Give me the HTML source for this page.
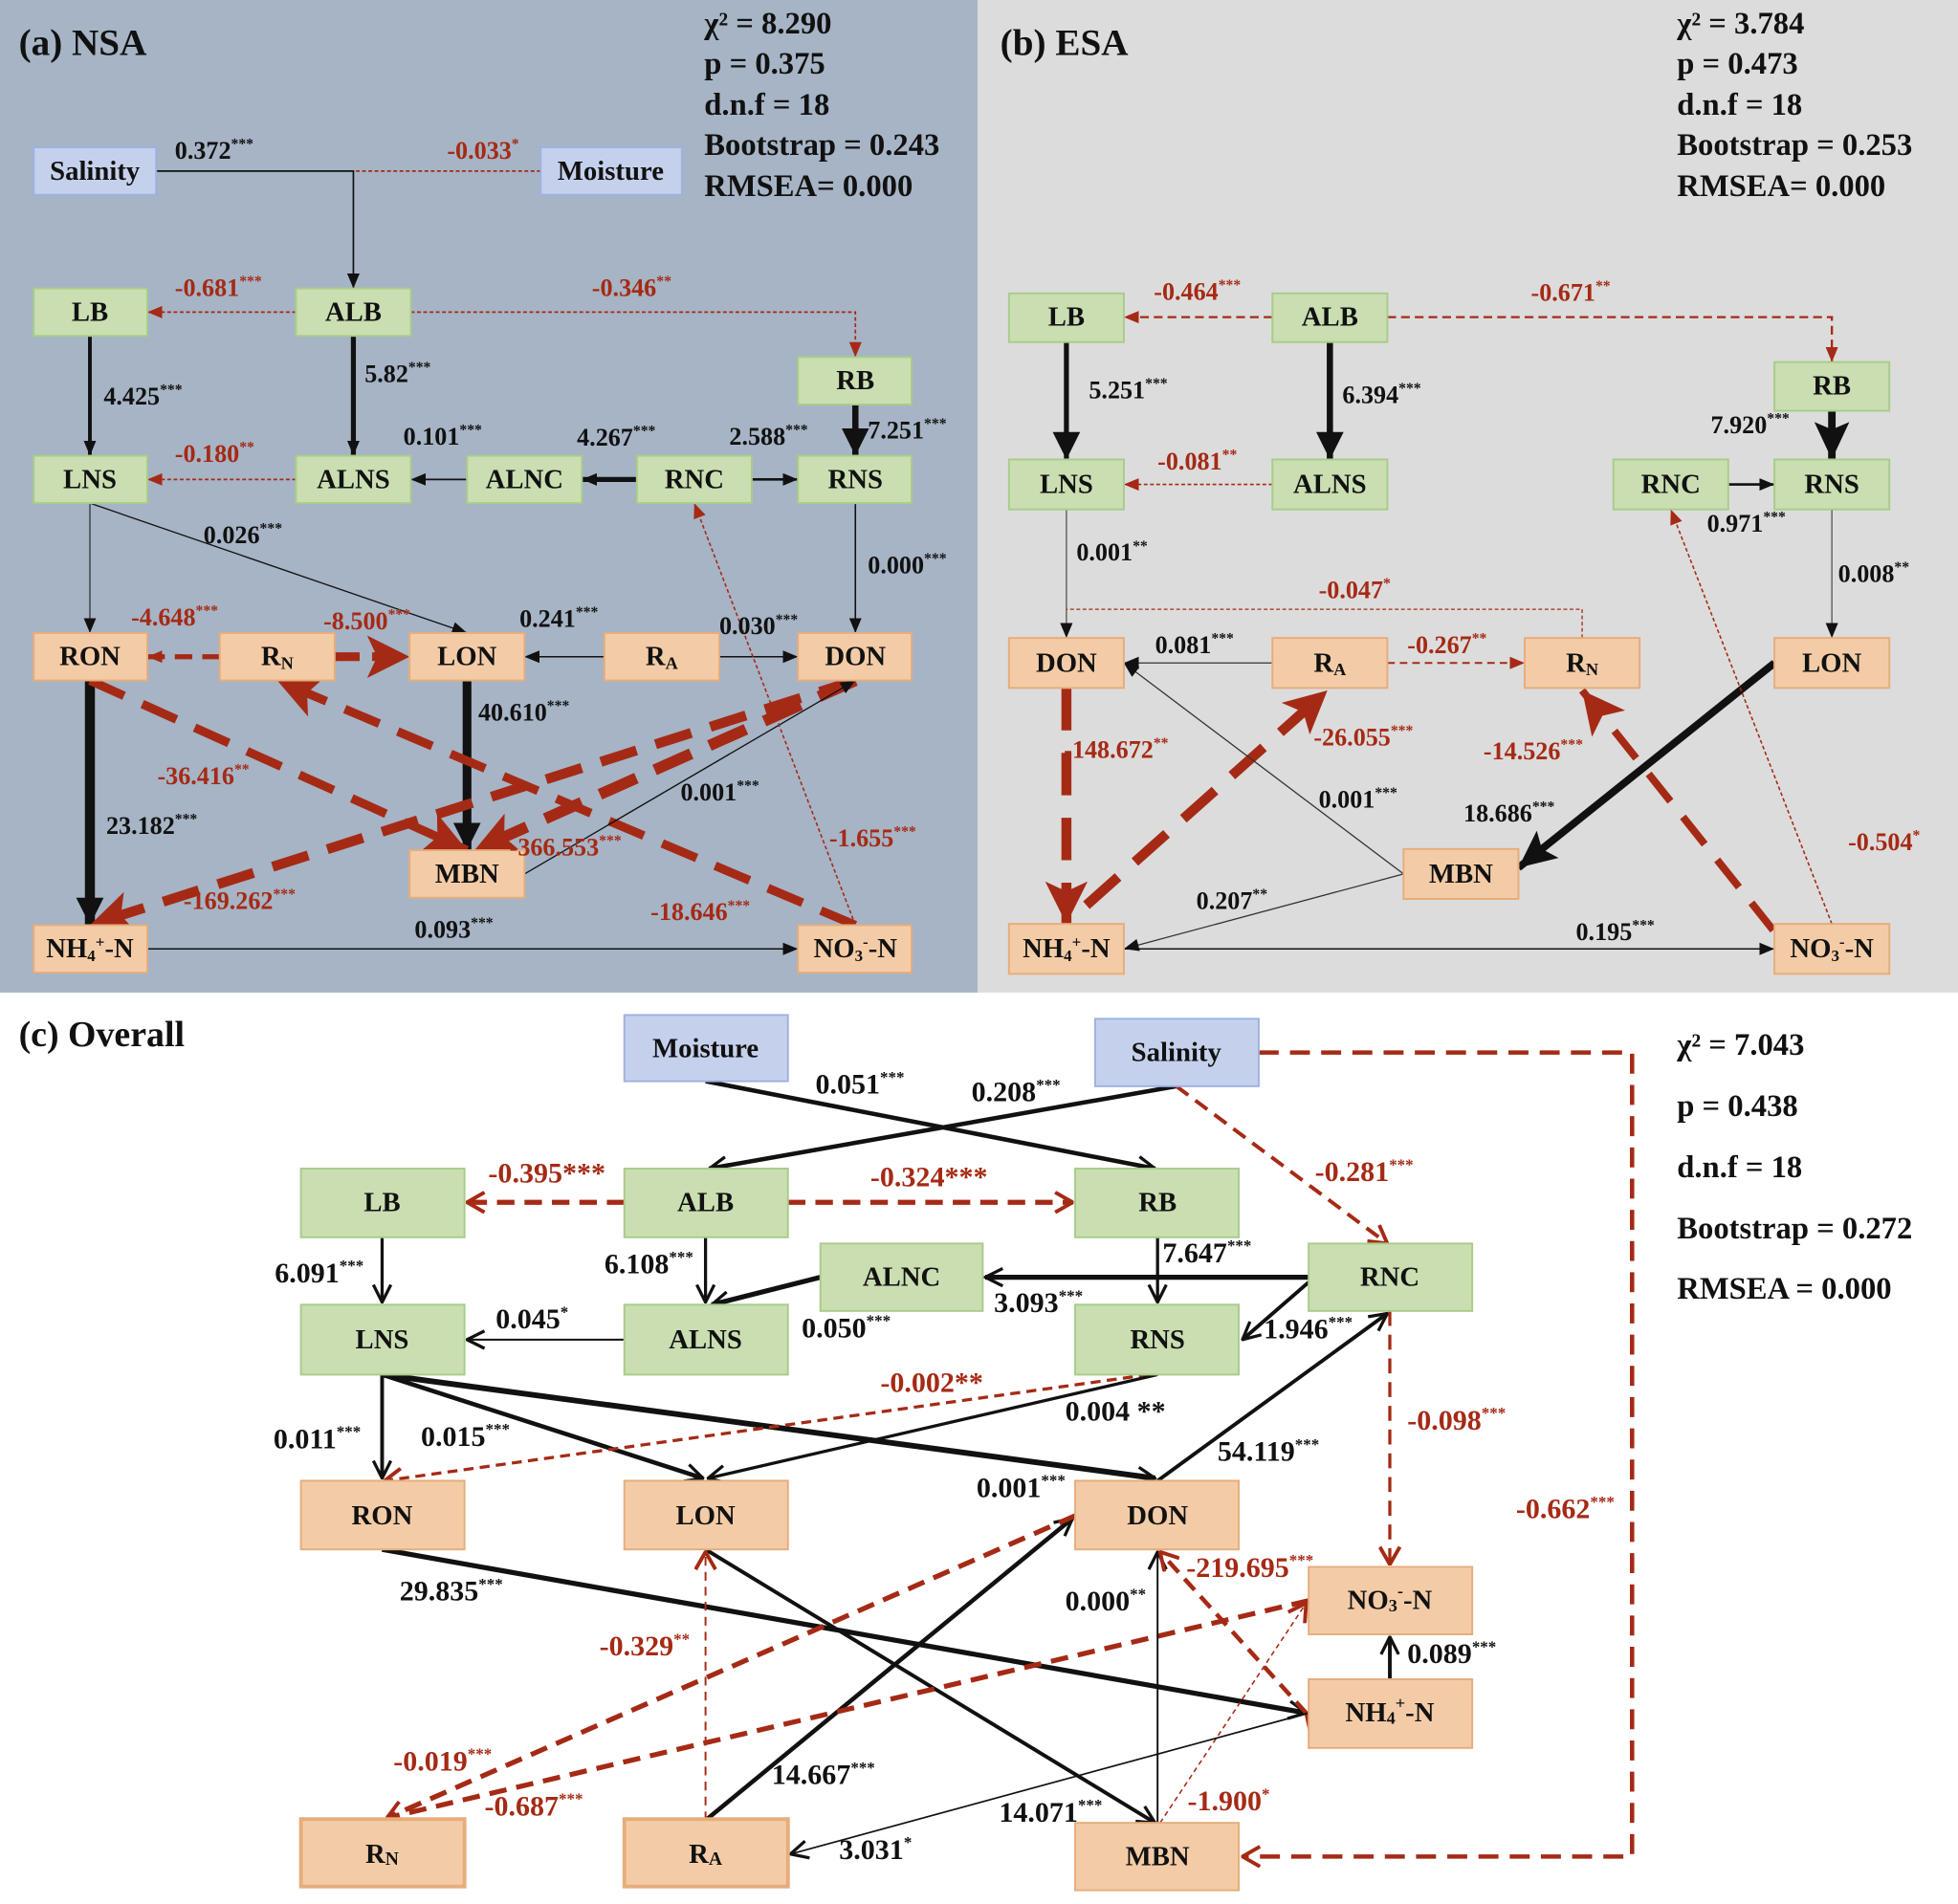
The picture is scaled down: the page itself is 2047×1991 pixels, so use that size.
<!DOCTYPE html>
<html><head><meta charset="utf-8"><style>
html,body{margin:0;padding:0;background:#fff}
svg{display:block}
text{font-family:"Liberation Serif",serif;font-weight:bold}
.n{font-size:22px;text-anchor:middle;dominant-baseline:central;fill:#111}
.l{font-size:20px;fill:#111}
.r{font-size:20px;fill:#a52a15}
.s{font-size:25px;fill:#111}
.c{font-size:23px;fill:#111}
.cr{font-size:23px;fill:#a52a15}
.g{fill:#cadeb2;stroke:#a9cc8a;stroke-width:1.5}
.o{fill:#f3cca7;stroke:#e6ad7c;stroke-width:1.5}
.b{fill:#c5d1ec;stroke:#9fb1e2;stroke-width:1.5}
</style></head><body>
<svg width="2047" height="1991" viewBox="0 0 1568 1525" preserveAspectRatio="none" xmlns="http://www.w3.org/2000/svg">
<defs>
<marker id="k" markerUnits="userSpaceOnUse" markerWidth="12" markerHeight="10" refX="12" refY="5" orient="auto"><path d="M0,0L12,5L0,10z" fill="#111"/></marker>
<marker id="kL" markerUnits="userSpaceOnUse" markerWidth="22" markerHeight="22" refX="22" refY="11" orient="auto"><path d="M0,0L22,11L0,22z" fill="#111"/></marker>
<marker id="kX" markerUnits="userSpaceOnUse" markerWidth="30" markerHeight="28" refX="30" refY="14" orient="auto"><path d="M0,0L30,14L0,28L6,14z" fill="#111"/></marker>
<marker id="rr" markerUnits="userSpaceOnUse" markerWidth="12" markerHeight="10" refX="12" refY="5" orient="auto"><path d="M0,0L12,5L0,10z" fill="#a52a15"/></marker>
<marker id="rL" markerUnits="userSpaceOnUse" markerWidth="34" markerHeight="34" refX="34" refY="17" orient="auto"><path d="M0,0L34,17L0,34L8,17z" fill="#a52a15"/></marker>
<marker id="cv" markerUnits="userSpaceOnUse" markerWidth="16" markerHeight="16" refX="15" refY="8" orient="auto"><path d="M1,1L15,8L1,15" fill="none" stroke="#111" stroke-width="2.5"/></marker>
<marker id="cr" markerUnits="userSpaceOnUse" markerWidth="16" markerHeight="18" refX="15" refY="9" orient="auto"><path d="M1,1L15,9L1,17" fill="none" stroke="#a52a15" stroke-width="3"/></marker>
</defs>
<rect x="0" y="0" width="783" height="795" fill="#a6b4c5"/>
<rect x="783" y="0" width="785" height="795" fill="#dcdcdc"/>

<!-- ===== Panel A ===== -->
<text x="15" y="44" style="font-size:30px" fill="#111">(a) NSA</text>
<text class="s" x="564" y="27">χ² = 8.290</text>
<text class="s" x="564" y="59">p = 0.375</text>
<text class="s" x="564" y="92">d.n.f = 18</text>
<text class="s" x="564" y="124">Bootstrap = 0.243</text>
<text class="s" x="564" y="157">RMSEA= 0.000</text>
<g fill="none">
<path d="M125,137H283V231" stroke="#111" stroke-width="1.3" marker-end="url(#k)"/>
<path d="M433,137H283" stroke="#a52a15" stroke-width="1.3" stroke-dasharray="3,2"/>
<path d="M237,250H118" stroke="#a52a15" stroke-width="1.3" stroke-dasharray="3,2" marker-end="url(#rr)"/>
<path d="M329,250H685V286" stroke="#a52a15" stroke-width="1.3" stroke-dasharray="3,2" marker-end="url(#rr)"/>
<path d="M72,269V365" stroke="#111" stroke-width="3" marker-end="url(#k)"/>
<path d="M283,269V365" stroke="#111" stroke-width="4" marker-end="url(#k)"/>
<path d="M685,324V365" stroke="#111" stroke-width="5" marker-end="url(#kL)"/>
<path d="M237,384H118" stroke="#a52a15" stroke-width="1.3" stroke-dasharray="3,2" marker-end="url(#rr)"/>
<path d="M374,384H329" stroke="#111" stroke-width="1.3" marker-end="url(#k)"/>
<path d="M510,384H466" stroke="#111" stroke-width="4" marker-end="url(#k)"/>
<path d="M602,384H639" stroke="#111" stroke-width="2" marker-end="url(#k)"/>
<path d="M72,403V507" stroke="#333" stroke-width="1" marker-end="url(#k)"/>
<path d="M72,403L374,507" stroke="#111" stroke-width="1" marker-end="url(#k)"/>
<path d="M685,403V507" stroke="#111" stroke-width="1.2" marker-end="url(#k)"/>
<path d="M176,526H118" stroke="#a52a15" stroke-width="4" stroke-dasharray="14,8" marker-end="url(#rr)"/>
<path d="M268,526H328" stroke="#a52a15" stroke-width="7" stroke-dasharray="20,10" marker-end="url(#rL)"/>
<path d="M484,526H420" stroke="#111" stroke-width="1.2" marker-end="url(#k)"/>
<path d="M576,526H639" stroke="#111" stroke-width="1.2" marker-end="url(#k)"/>
<path d="M374,545V681" stroke="#111" stroke-width="7" marker-end="url(#kL)"/>
<path d="M72,545V741" stroke="#111" stroke-width="8" marker-end="url(#kL)"/>
<path d="M72,545L374,681" stroke="#a52a15" stroke-width="7" stroke-dasharray="30,16" marker-end="url(#rL)"/>
<path d="M685,741L222,545" stroke="#a52a15" stroke-width="7" stroke-dasharray="30,16" marker-end="url(#rL)"/>
<path d="M685,545L72,741" stroke="#a52a15" stroke-width="8" stroke-dasharray="30,16" marker-end="url(#rL)"/>
<path d="M685,545L380,681" stroke="#a52a15" stroke-width="9" stroke-dasharray="32,16" marker-end="url(#rL)"/>
<path d="M420,700L685,545" stroke="#111" stroke-width="1" marker-end="url(#k)"/>
<path d="M685,741L556,403" stroke="#a52a15" stroke-width="1.2" stroke-dasharray="3,2" marker-end="url(#rr)"/>
<path d="M118,760H639" stroke="#111" stroke-width="1.2" marker-end="url(#k)"/>
</g>
<rect class="b" x="27" y="118" width="98" height="38"/><text class="n" x="76" y="137">Salinity</text>
<rect class="b" x="433" y="118" width="113" height="38"/><text class="n" x="489" y="137">Moisture</text>
<rect class="g" x="27" y="231" width="91" height="38"/><text class="n" x="72" y="250">LB</text>
<rect class="g" x="237" y="231" width="92" height="38"/><text class="n" x="283" y="250">ALB</text>
<rect class="g" x="639" y="286" width="91" height="38"/><text class="n" x="685" y="305">RB</text>
<rect class="g" x="27" y="365" width="91" height="38"/><text class="n" x="72" y="384">LNS</text>
<rect class="g" x="237" y="365" width="92" height="38"/><text class="n" x="283" y="384">ALNS</text>
<rect class="g" x="374" y="365" width="92" height="38"/><text class="n" x="420" y="384">ALNC</text>
<rect class="g" x="510" y="365" width="92" height="38"/><text class="n" x="556" y="384">RNC</text>
<rect class="g" x="639" y="365" width="91" height="38"/><text class="n" x="685" y="384">RNS</text>
<rect class="o" x="27" y="507" width="91" height="38"/><text class="n" x="72" y="526">RON</text>
<rect class="o" x="176" y="507" width="92" height="38"/><text class="n" x="222" y="526">R<tspan font-size="14" dy="5">N</tspan></text>
<rect class="o" x="328" y="507" width="92" height="38"/><text class="n" x="374" y="526">LON</text>
<rect class="o" x="484" y="507" width="92" height="38"/><text class="n" x="530" y="526">R<tspan font-size="14" dy="5">A</tspan></text>
<rect class="o" x="639" y="507" width="91" height="38"/><text class="n" x="685" y="526">DON</text>
<rect class="o" x="328" y="681" width="92" height="38"/><text class="n" x="374" y="700">MBN</text>
<rect class="o" x="27" y="741" width="91" height="38"/><text class="n" x="72" y="760">NH<tspan font-size="13" dy="5">4</tspan><tspan font-size="13" dy="-11">+</tspan><tspan dy="6">-N</tspan></text>
<rect class="o" x="639" y="741" width="91" height="38"/><text class="n" x="685" y="760">NO<tspan font-size="13" dy="5">3</tspan><tspan font-size="13" dy="-11">-</tspan><tspan dy="6">-N</tspan></text>
<g>
<text class="l" x="140" y="127">0.372<tspan font-size="12" dy="-8">***</tspan></text>
<text class="r" x="358" y="127">-0.033<tspan font-size="12" dy="-8">*</tspan></text>
<text class="r" x="140" y="237">-0.681<tspan font-size="12" dy="-8">***</tspan></text>
<text class="r" x="474" y="237">-0.346<tspan font-size="12" dy="-8">**</tspan></text>
<text class="l" x="83" y="324">4.425<tspan font-size="12" dy="-8">***</tspan></text>
<text class="l" x="292" y="306">5.82<tspan font-size="12" dy="-8">***</tspan></text>
<text class="l" x="323" y="356">0.101<tspan font-size="12" dy="-8">***</tspan></text>
<text class="l" x="462" y="357">4.267<tspan font-size="12" dy="-8">***</tspan></text>
<text class="l" x="584" y="356">2.588<tspan font-size="12" dy="-8">***</tspan></text>
<text class="l" x="695" y="351">7.251<tspan font-size="12" dy="-8">***</tspan></text>
<text class="r" x="140" y="370">-0.180<tspan font-size="12" dy="-8">**</tspan></text>
<text class="l" x="163" y="435">0.026<tspan font-size="12" dy="-8">***</tspan></text>
<text class="l" x="695" y="459">0.000<tspan font-size="12" dy="-8">***</tspan></text>
<text class="r" x="105" y="501">-4.648<tspan font-size="12" dy="-8">***</tspan></text>
<text class="r" x="259" y="504">-8.500<tspan font-size="12" dy="-8">***</tspan></text>
<text class="l" x="416" y="502">0.241<tspan font-size="12" dy="-8">***</tspan></text>
<text class="l" x="576" y="508">0.030<tspan font-size="12" dy="-8">***</tspan></text>
<text class="l" x="383" y="577">40.610<tspan font-size="12" dy="-8">***</tspan></text>
<text class="r" x="126" y="628">-36.416<tspan font-size="12" dy="-8">**</tspan></text>
<text class="l" x="85" y="668">23.182<tspan font-size="12" dy="-8">***</tspan></text>
<text class="l" x="545" y="641">0.001<tspan font-size="12" dy="-8">***</tspan></text>
<text class="r" x="408" y="685">-366.553<tspan font-size="12" dy="-8">***</tspan></text>
<text class="r" x="664" y="678">-1.655<tspan font-size="12" dy="-8">***</tspan></text>
<text class="r" x="147" y="728">-169.262<tspan font-size="12" dy="-8">***</tspan></text>
<text class="r" x="521" y="737">-18.646<tspan font-size="12" dy="-8">***</tspan></text>
<text class="l" x="332" y="751">0.093<tspan font-size="12" dy="-8">***</tspan></text>
</g>

<!-- ===== Panel B ===== -->
<text x="801" y="44" style="font-size:30px" fill="#111">(b) ESA</text>
<text class="s" x="1343" y="27">χ² = 3.784</text>
<text class="s" x="1343" y="59">p = 0.473</text>
<text class="s" x="1343" y="92">d.n.f = 18</text>
<text class="s" x="1343" y="124">Bootstrap = 0.253</text>
<text class="s" x="1343" y="157">RMSEA= 0.000</text>
<g fill="none">
<path d="M1019,254H900" stroke="#a52a15" stroke-width="1.8" stroke-dasharray="7,4" marker-end="url(#rr)"/>
<path d="M1111,254H1467V290" stroke="#a52a15" stroke-width="1.8" stroke-dasharray="7,4" marker-end="url(#rr)"/>
<path d="M854,274V368" stroke="#111" stroke-width="4" marker-end="url(#kL)"/>
<path d="M1065,274V368" stroke="#111" stroke-width="5" marker-end="url(#kL)"/>
<path d="M1467,329V368" stroke="#111" stroke-width="6" marker-end="url(#kX)"/>
<path d="M1019,388H900" stroke="#a52a15" stroke-width="1.2" stroke-dasharray="3,2" marker-end="url(#rr)"/>
<path d="M1384,388H1421" stroke="#111" stroke-width="2" marker-end="url(#k)"/>
<path d="M854,408V511" stroke="#555" stroke-width="1" marker-end="url(#k)"/>
<path d="M1267,511V488H854" stroke="#a52a15" stroke-width="1" stroke-dasharray="3,2"/>
<path d="M1019,531H900" stroke="#333" stroke-width="1" marker-end="url(#k)"/>
<path d="M1111,531H1221" stroke="#a52a15" stroke-width="1.5" stroke-dasharray="6,4" marker-end="url(#rr)"/>
<path d="M1467,408V511" stroke="#555" stroke-width="1" marker-end="url(#k)"/>
<path d="M854,551V740" stroke="#a52a15" stroke-width="8" stroke-dasharray="34,18" marker-end="url(#rL)"/>
<path d="M870,725L1063,553" stroke="#a52a15" stroke-width="8" stroke-dasharray="34,18" marker-end="url(#rL)"/>
<path d="M1420,745L1267,553" stroke="#a52a15" stroke-width="6" stroke-dasharray="28,16" marker-end="url(#rL)"/>
<path d="M1421,531L1216,695" stroke="#111" stroke-width="6" marker-end="url(#kX)"/>
<path d="M1124,700L900,531" stroke="#333" stroke-width="1" marker-end="url(#k)"/>
<path d="M1124,700L900,760" stroke="#333" stroke-width="1" marker-end="url(#k)"/>
<path d="M900,760H1421" stroke="#111" stroke-width="1.2" marker-start="url(#k)" marker-end="url(#k)"/>
<path d="M1467,740L1338,408" stroke="#a52a15" stroke-width="1.2" stroke-dasharray="3,2" marker-end="url(#rr)"/>
</g>
<rect class="g" x="808" y="235" width="92" height="39"/><text class="n" x="854" y="254">LB</text>
<rect class="g" x="1019" y="235" width="92" height="39"/><text class="n" x="1065" y="254">ALB</text>
<rect class="g" x="1421" y="290" width="92" height="39"/><text class="n" x="1467" y="309">RB</text>
<rect class="g" x="808" y="368" width="92" height="40"/><text class="n" x="854" y="388">LNS</text>
<rect class="g" x="1019" y="368" width="92" height="40"/><text class="n" x="1065" y="388">ALNS</text>
<rect class="g" x="1292" y="368" width="92" height="40"/><text class="n" x="1338" y="388">RNC</text>
<rect class="g" x="1421" y="368" width="92" height="40"/><text class="n" x="1467" y="388">RNS</text>
<rect class="o" x="808" y="511" width="92" height="40"/><text class="n" x="854" y="531">DON</text>
<rect class="o" x="1019" y="511" width="92" height="40"/><text class="n" x="1065" y="531">R<tspan font-size="14" dy="5">A</tspan></text>
<rect class="o" x="1221" y="511" width="92" height="40"/><text class="n" x="1267" y="531">R<tspan font-size="14" dy="5">N</tspan></text>
<rect class="o" x="1421" y="511" width="92" height="40"/><text class="n" x="1467" y="531">LON</text>
<rect class="o" x="1124" y="680" width="92" height="40"/><text class="n" x="1170" y="700">MBN</text>
<rect class="o" x="808" y="740" width="92" height="40"/><text class="n" x="854" y="760">NH<tspan font-size="13" dy="5">4</tspan><tspan font-size="13" dy="-11">+</tspan><tspan dy="6">-N</tspan></text>
<rect class="o" x="1421" y="740" width="92" height="40"/><text class="n" x="1467" y="760">NO<tspan font-size="13" dy="5">3</tspan><tspan font-size="13" dy="-11">-</tspan><tspan dy="6">-N</tspan></text>
<g>
<text class="r" x="924" y="240">-0.464<tspan font-size="12" dy="-8">***</tspan></text>
<text class="r" x="1226" y="241">-0.671<tspan font-size="12" dy="-8">**</tspan></text>
<text class="l" x="872" y="319">5.251<tspan font-size="12" dy="-8">***</tspan></text>
<text class="l" x="1075" y="323">6.394<tspan font-size="12" dy="-8">***</tspan></text>
<text class="l" x="1370" y="347">7.920<tspan font-size="12" dy="-8">***</tspan></text>
<text class="r" x="927" y="376">-0.081<tspan font-size="12" dy="-8">**</tspan></text>
<text class="l" x="1367" y="426">0.971<tspan font-size="12" dy="-8">***</tspan></text>
<text class="l" x="862" y="449">0.001<tspan font-size="12" dy="-8">**</tspan></text>
<text class="l" x="1472" y="466">0.008<tspan font-size="12" dy="-8">**</tspan></text>
<text class="r" x="1056" y="479">-0.047<tspan font-size="12" dy="-8">*</tspan></text>
<text class="l" x="925" y="523">0.081<tspan font-size="12" dy="-8">***</tspan></text>
<text class="r" x="1127" y="523">-0.267<tspan font-size="12" dy="-8">**</tspan></text>
<text class="r" x="852" y="607">-148.672<tspan font-size="12" dy="-8">**</tspan></text>
<text class="r" x="1052" y="597">-26.055<tspan font-size="12" dy="-8">***</tspan></text>
<text class="r" x="1188" y="608">-14.526<tspan font-size="12" dy="-8">***</tspan></text>
<text class="l" x="1056" y="647">0.001<tspan font-size="12" dy="-8">***</tspan></text>
<text class="l" x="1172" y="658">18.686<tspan font-size="12" dy="-8">***</tspan></text>
<text class="r" x="1480" y="681">-0.504<tspan font-size="12" dy="-8">*</tspan></text>
<text class="l" x="958" y="728">0.207<tspan font-size="12" dy="-8">**</tspan></text>
<text class="l" x="1262" y="753">0.195<tspan font-size="12" dy="-8">***</tspan></text>
</g>

<!-- ===== Panel C ===== -->
<text x="15" y="838" style="font-size:29px" fill="#111">(c) Overall</text>
<text class="s" x="1343" y="845">χ² =  7.043</text>
<text class="s" x="1343" y="894">p = 0.438</text>
<text class="s" x="1343" y="943">d.n.f  = 18</text>
<text class="s" x="1343" y="992">Bootstrap = 0.272</text>
<text class="s" x="1343" y="1040">RMSEA = 0.000</text>
<g fill="none">
<path d="M565,866L925,936" stroke="#111" stroke-width="3.5" marker-end="url(#cv)"/>
<path d="M942,870L568,936" stroke="#111" stroke-width="3.5" marker-end="url(#cv)"/>
<path d="M942,870L1111,996" stroke="#a52a15" stroke-width="3" stroke-dasharray="12,7" marker-end="url(#cr)"/>
<path d="M1008,843H1307V1487H995" stroke="#a52a15" stroke-width="3.5" stroke-dasharray="16,9" marker-end="url(#cr)"/>
<path d="M500,963H374" stroke="#a52a15" stroke-width="4" stroke-dasharray="14,8" marker-end="url(#cr)"/>
<path d="M631,963H859" stroke="#a52a15" stroke-width="4" stroke-dasharray="14,8" marker-end="url(#cr)"/>
<path d="M306,991V1043" stroke="#111" stroke-width="2.5" marker-end="url(#cv)"/>
<path d="M565,991V1043" stroke="#111" stroke-width="2.5" marker-end="url(#cv)"/>
<path d="M657,1023L570,1045" stroke="#111" stroke-width="4" marker-end="url(#cv)"/>
<path d="M927,991V1043" stroke="#111" stroke-width="2.5" marker-end="url(#cv)"/>
<path d="M1048,1023H789" stroke="#111" stroke-width="4" marker-end="url(#cv)"/>
<path d="M1048,1027L995,1073" stroke="#111" stroke-width="3" marker-end="url(#cv)"/>
<path d="M500,1073H374" stroke="#111" stroke-width="1.5" marker-end="url(#cv)"/>
<path d="M306,1101V1184" stroke="#111" stroke-width="3" marker-end="url(#cv)"/>
<path d="M306,1101L563,1184" stroke="#111" stroke-width="3.5" marker-end="url(#cv)"/>
<path d="M306,1101L925,1184" stroke="#111" stroke-width="4.5" marker-end="url(#cv)"/>
<path d="M920,1101L308,1186" stroke="#a52a15" stroke-width="2.5" stroke-dasharray="8,5" marker-end="url(#cr)"/>
<path d="M927,1101L567,1184" stroke="#111" stroke-width="2.5" marker-end="url(#cv)"/>
<path d="M927,1186L1111,1052" stroke="#111" stroke-width="3" marker-end="url(#cv)"/>
<path d="M1113,1050V1253" stroke="#a52a15" stroke-width="2.5" stroke-dasharray="12,7" marker-end="url(#cr)"/>
<path d="M306,1241L1046,1372" stroke="#111" stroke-width="4" marker-end="url(#cv)"/>
<path d="M565,1241L925,1460" stroke="#111" stroke-width="3" marker-end="url(#cv)"/>
<path d="M565,1458V1243" stroke="#a52a15" stroke-width="1.5" stroke-dasharray="7,5" marker-end="url(#cr)"/>
<path d="M565,1458L859,1216" stroke="#111" stroke-width="3.5" marker-end="url(#cv)"/>
<path d="M861,1214L310,1456" stroke="#a52a15" stroke-width="4" stroke-dasharray="14,8" marker-start="url(#cr)" marker-end="url(#cr)"/>
<path d="M1048,1282L310,1456" stroke="#a52a15" stroke-width="4" stroke-dasharray="14,8" marker-start="url(#cr)"/>
<path d="M927,1460V1243" stroke="#111" stroke-width="1.5" marker-end="url(#cv)"/>
<path d="M1046,1372L929,1243" stroke="#a52a15" stroke-width="3.5" stroke-dasharray="12,7" marker-start="url(#cr)" marker-end="url(#cr)"/>
<path d="M929,1460L1046,1284" stroke="#a52a15" stroke-width="1.2" stroke-dasharray="4,3" marker-end="url(#cr)"/>
<path d="M1113,1345V1311" stroke="#111" stroke-width="3" marker-end="url(#cv)"/>
<path d="M1048,1372L633,1485" stroke="#111" stroke-width="1.3" marker-end="url(#cv)"/>
</g>
<rect class="b" x="500" y="813" width="131" height="53"/><text class="n" x="565" y="840">Moisture</text>
<rect class="b" x="877" y="816" width="131" height="54"/><text class="n" x="942" y="843">Salinity</text>
<rect class="g" x="241" y="936" width="131" height="55"/><text class="n" x="306" y="963">LB</text>
<rect class="g" x="500" y="936" width="131" height="55"/><text class="n" x="565" y="963">ALB</text>
<rect class="g" x="861" y="936" width="131" height="55"/><text class="n" x="927" y="963">RB</text>
<rect class="g" x="657" y="996" width="130" height="54"/><text class="n" x="722" y="1023">ALNC</text>
<rect class="g" x="1048" y="996" width="131" height="54"/><text class="n" x="1113" y="1023">RNC</text>
<rect class="g" x="241" y="1045" width="131" height="56"/><text class="n" x="306" y="1073">LNS</text>
<rect class="g" x="500" y="1045" width="131" height="56"/><text class="n" x="565" y="1073">ALNS</text>
<rect class="g" x="861" y="1045" width="131" height="56"/><text class="n" x="927" y="1073">RNS</text>
<rect class="o" x="241" y="1186" width="131" height="55"/><text class="n" x="306" y="1214">RON</text>
<rect class="o" x="500" y="1186" width="131" height="55"/><text class="n" x="565" y="1214">LON</text>
<rect class="o" x="861" y="1186" width="131" height="55"/><text class="n" x="927" y="1214">DON</text>
<rect class="o" x="1048" y="1255" width="131" height="54"/><text class="n" x="1113" y="1282">NO<tspan font-size="14" dy="4">3</tspan><tspan font-size="14" dy="-12">-</tspan><tspan dy="8">-N</tspan></text>
<rect class="o" x="1048" y="1345" width="131" height="55"/><text class="n" x="1113" y="1372">NH<tspan font-size="14" dy="4">4</tspan><tspan font-size="14" dy="-12">+</tspan><tspan dy="8">-N</tspan></text>
<rect class="o" x="241" y="1457" width="131" height="54" style="stroke-width:3"/><text class="n" x="306" y="1485">R<tspan font-size="15" dy="4">N</tspan></text>
<rect class="o" x="500" y="1457" width="131" height="54" style="stroke-width:3"/><text class="n" x="565" y="1485">R<tspan font-size="15" dy="4">A</tspan></text>
<rect class="o" x="861" y="1460" width="131" height="54"/><text class="n" x="927" y="1487">MBN</text>
<g>
<text class="c" x="653" y="876">0.051<tspan font-size="13" dy="-9">***</tspan></text>
<text class="c" x="778" y="882">0.208<tspan font-size="13" dy="-9">***</tspan></text>
<text class="cr" x="391" y="947">-0.395***</text>
<text class="cr" x="697" y="950">-0.324***</text>
<text class="cr" x="1053" y="946">-0.281<tspan font-size="13" dy="-9">***</tspan></text>
<text class="c" x="220" y="1027">6.091<tspan font-size="13" dy="-9">***</tspan></text>
<text class="c" x="484" y="1020">6.108<tspan font-size="13" dy="-9">***</tspan></text>
<text class="c" x="931" y="1011">7.647<tspan font-size="13" dy="-9">***</tspan></text>
<text class="c" x="796" y="1051">3.093<tspan font-size="13" dy="-9">***</tspan></text>
<text class="c" x="642" y="1071">0.050<tspan font-size="13" dy="-9">***</tspan></text>
<text class="c" x="1012" y="1072">1.946<tspan font-size="13" dy="-9">***</tspan></text>
<text class="c" x="397" y="1064">0.045<tspan font-size="13" dy="-9">*</tspan></text>
<text class="cr" x="705" y="1115">-0.002**</text>
<text class="c" x="853" y="1138">0.004 **</text>
<text class="cr" x="1127" y="1145">-0.098<tspan font-size="13" dy="-9">***</tspan></text>
<text class="c" x="219" y="1160">0.011<tspan font-size="13" dy="-9">***</tspan></text>
<text class="c" x="337" y="1158">0.015<tspan font-size="13" dy="-9">***</tspan></text>
<text class="c" x="975" y="1170">54.119<tspan font-size="13" dy="-9">***</tspan></text>
<text class="c" x="782" y="1199">0.001<tspan font-size="13" dy="-9">***</tspan></text>
<text class="cr" x="1214" y="1216">-0.662<tspan font-size="13" dy="-9">***</tspan></text>
<text class="cr" x="950" y="1263">-219.695<tspan font-size="13" dy="-9">***</tspan></text>
<text class="c" x="320" y="1282">29.835<tspan font-size="13" dy="-9">***</tspan></text>
<text class="c" x="853" y="1290">0.000<tspan font-size="13" dy="-9">**</tspan></text>
<text class="c" x="1127" y="1332">0.089<tspan font-size="13" dy="-9">***</tspan></text>
<text class="cr" x="480" y="1326">-0.329<tspan font-size="13" dy="-9">**</tspan></text>
<text class="cr" x="315" y="1418">-0.019<tspan font-size="13" dy="-9">***</tspan></text>
<text class="cr" x="388" y="1454">-0.687<tspan font-size="13" dy="-9">***</tspan></text>
<text class="c" x="618" y="1429">14.667<tspan font-size="13" dy="-9">***</tspan></text>
<text class="c" x="800" y="1459">14.071<tspan font-size="13" dy="-9">***</tspan></text>
<text class="cr" x="951" y="1450">-1.900<tspan font-size="13" dy="-9">*</tspan></text>
<text class="c" x="672" y="1489">3.031<tspan font-size="13" dy="-9">*</tspan></text>
</g>
</svg>
</body></html>
